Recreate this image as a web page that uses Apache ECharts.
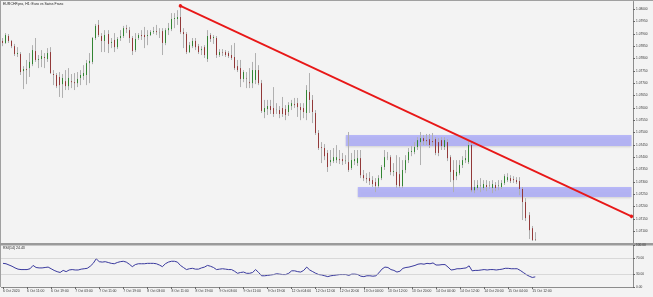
<!DOCTYPE html>
<html><head><meta charset="utf-8">
<script src="https://cdn.jsdelivr.net/npm/echarts@6/dist/echarts.min.js"></script>
<style>html,body{margin:0;padding:0;background:#f3f3f3}#c{width:653px;height:297px}</style>
</head><body><div id="c"></div>
<script>
// ---- data ----
const tickLabels = ['6 Oct 2020','6 Oct 11:00','6 Oct 19:00','7 Oct 03:00','7 Oct 11:00','7 Oct 19:00','8 Oct 03:00','8 Oct 11:00','8 Oct 19:00','9 Oct 03:00','9 Oct 11:00','9 Oct 19:00','12 Oct 04:00','12 Oct 12:00','12 Oct 20:00','13 Oct 04:00','13 Oct 12:00','13 Oct 20:00','14 Oct 04:00','14 Oct 12:00','14 Oct 20:00','15 Oct 04:00','15 Oct 12:00'];
const priceTicks = [1.07100,1.07150,1.07200,1.07250,1.07300,1.07350,1.07400,1.07450,1.07500,1.07550,1.07600,1.07650,1.07700,1.07750,1.07800,1.07850,1.07900,1.07950,1.08000];
const rsiTicks = [0,30,70,100];
const totalBars = 210;   // visible bar slots incl. empty right margin
const labelEvery = 8;

const open = [
1.07871,1.07863,1.07891,1.07871,1.07850,1.07818,1.07818,1.07749,1.07757,1.07761,
1.07777,1.07830,1.07794,1.07798,1.07806,1.07798,1.07826,1.07737,1.07733,1.07725,
1.07696,1.07708,1.07688,1.07708,1.07704,1.07700,1.07721,1.07729,1.07733,1.07781,
1.07786,1.07883,1.07936,1.07891,1.07871,1.07899,1.07863,1.07875,1.07846,1.07883,
1.07891,1.07923,1.07915,1.07883,1.07834,1.07883,1.07895,1.07895,1.07891,1.07895,
1.07907,1.07911,1.07903,1.07911,1.07863,1.07915,1.07919,1.07960,1.07960,1.07968,
1.07907,1.07899,1.07826,1.07850,1.07871,1.07850,1.07834,1.07846,1.07798,1.07895,
1.07883,1.07883,1.07814,1.07826,1.07826,1.07822,1.07814,1.07806,1.07769,1.07761,
1.07717,1.07721,1.07704,1.07700,1.07713,1.07753,1.07700,1.07583,1.07595,1.07607,
1.07599,1.07591,1.07591,1.07599,1.07595,1.07583,1.07607,1.07615,1.07619,1.07603,
1.07599,1.07579,1.07664,1.07632,1.07579,1.07498,1.07441,1.07437,1.07417,1.07380,
1.07384,1.07388,1.07392,1.07392,1.07384,1.07380,1.07356,1.07384,1.07376,1.07396,
1.07327,1.07315,1.07315,1.07307,1.07299,1.07283,1.07315,1.07360,1.07400,1.07400,
1.07340,1.07340,1.07331,1.07283,1.07348,1.07388,1.07421,1.07421,1.07441,1.07461,
1.07477,1.07469,1.07473,1.07465,1.07473,1.07461,1.07469,1.07441,1.07461,1.07400,
1.07348,1.07323,1.07335,1.07368,1.07388,1.07380,1.07449,1.07266,1.07275,1.07283,
1.07275,1.07287,1.07287,1.07275,1.07287,1.07283,1.07279,1.07295,1.07307,1.07315,
1.07311,1.07307,1.07303,1.07271,1.07218,1.07165,1.07112,1.07068];
const close = [
1.07863,1.07895,1.07871,1.07850,1.07818,1.07822,1.07745,1.07757,1.07753,1.07786,
1.07834,1.07794,1.07798,1.07810,1.07802,1.07822,1.07741,1.07733,1.07688,1.07692,
1.07721,1.07688,1.07721,1.07704,1.07700,1.07717,1.07733,1.07741,1.07781,1.07790,
1.07883,1.07932,1.07895,1.07871,1.07895,1.07859,1.07867,1.07846,1.07879,1.07891,
1.07923,1.07919,1.07883,1.07830,1.07879,1.07895,1.07891,1.07887,1.07895,1.07907,
1.07911,1.07907,1.07904,1.07863,1.07915,1.07923,1.07960,1.07964,1.07968,1.07907,
1.07899,1.07826,1.07854,1.07871,1.07846,1.07826,1.07838,1.07814,1.07891,1.07879,
1.07887,1.07814,1.07826,1.07824,1.07814,1.07810,1.07802,1.07761,1.07753,1.07717,
1.07745,1.07719,1.07700,1.07753,1.07753,1.07700,1.07587,1.07599,1.07607,1.07591,
1.07575,1.07592,1.07575,1.07575,1.07571,1.07611,1.07619,1.07611,1.07603,1.07591,
1.07583,1.07672,1.07632,1.07583,1.07498,1.07437,1.07438,1.07404,1.07360,1.07388,
1.07400,1.07400,1.07388,1.07384,1.07386,1.07348,1.07388,1.07392,1.07396,1.07327,
1.07315,1.07311,1.07303,1.07291,1.07283,1.07315,1.07360,1.07400,1.07401,1.07340,
1.07344,1.07287,1.07283,1.07348,1.07388,1.07421,1.07425,1.07441,1.07469,1.07477,
1.07465,1.07465,1.07449,1.07461,1.07417,1.07417,1.07445,1.07469,1.07396,1.07340,
1.07307,1.07340,1.07368,1.07388,1.07396,1.07449,1.07266,1.07279,1.07287,1.07284,
1.07291,1.07279,1.07286,1.07291,1.07275,1.07285,1.07295,1.07323,1.07319,1.07303,
1.07307,1.07299,1.07271,1.07218,1.07153,1.07104,1.07064,1.07066];
const low = [
1.07850,1.07859,1.07863,1.07842,1.07810,1.07806,1.07733,1.07676,1.07696,1.07725,
1.07769,1.07786,1.07761,1.07765,1.07761,1.07786,1.07737,1.07692,1.07680,1.07644,
1.07640,1.07672,1.07672,1.07680,1.07672,1.07684,1.07692,1.07713,1.07692,1.07700,
1.07777,1.07875,1.07887,1.07826,1.07826,1.07822,1.07842,1.07826,1.07838,1.07871,
1.07883,1.07903,1.07863,1.07814,1.07826,1.07875,1.07875,1.07842,1.07854,1.07891,
1.07899,1.07895,1.07883,1.07814,1.07854,1.07895,1.07911,1.07923,1.07936,1.07899,
1.07842,1.07818,1.07822,1.07842,1.07834,1.07818,1.07814,1.07802,1.07786,1.07867,
1.07859,1.07802,1.07806,1.07810,1.07806,1.07802,1.07794,1.07753,1.07745,1.07684,
1.07704,1.07680,1.07680,1.07680,1.07696,1.07692,1.07579,1.07558,1.07571,1.07575,
1.07563,1.07575,1.07558,1.07563,1.07550,1.07567,1.07591,1.07599,1.07563,1.07550,
1.07558,1.07550,1.07579,1.07538,1.07490,1.07429,1.07376,1.07388,1.07340,1.07364,
1.07376,1.07376,1.07372,1.07368,1.07372,1.07340,1.07348,1.07368,1.07364,1.07315,
1.07303,1.07295,1.07287,1.07279,1.07258,1.07275,1.07307,1.07348,1.07388,1.07327,
1.07323,1.07275,1.07275,1.07275,1.07335,1.07376,1.07404,1.07412,1.07429,1.07368,
1.07449,1.07449,1.07437,1.07445,1.07408,1.07404,1.07429,1.07429,1.07384,1.07299,
1.07258,1.07307,1.07327,1.07356,1.07376,1.07372,1.07258,1.07254,1.07266,1.07258,
1.07266,1.07262,1.07271,1.07254,1.07262,1.07266,1.07271,1.07287,1.07299,1.07295,
1.07295,1.07291,1.07246,1.07145,1.07141,1.07068,1.07060,1.07060];
const high = [
1.07883,1.07903,1.07899,1.07875,1.07859,1.07846,1.07826,1.07769,1.07794,1.07822,
1.07854,1.07883,1.07814,1.07834,1.07822,1.07842,1.07846,1.07753,1.07741,1.07745,
1.07737,1.07753,1.07761,1.07737,1.07741,1.07745,1.07753,1.07773,1.07794,1.07822,
1.07887,1.07940,1.07956,1.07903,1.07915,1.07915,1.07883,1.07903,1.07887,1.07915,
1.07932,1.07936,1.07928,1.07891,1.07903,1.07903,1.07915,1.07928,1.07915,1.07915,
1.07928,1.07936,1.07923,1.07923,1.07923,1.07944,1.07984,1.07984,1.07996,1.08013,
1.07923,1.07907,1.07867,1.07883,1.07883,1.07859,1.07850,1.07854,1.07915,1.07903,
1.07895,1.07891,1.07838,1.07838,1.07834,1.07830,1.07854,1.07863,1.07794,1.07794,
1.07753,1.07745,1.07761,1.07786,1.07822,1.07773,1.07713,1.07632,1.07632,1.07632,
1.07684,1.07619,1.07607,1.07644,1.07611,1.07623,1.07632,1.07640,1.07640,1.07619,
1.07619,1.07692,1.07741,1.07652,1.07591,1.07510,1.07461,1.07453,1.07429,1.07429,
1.07437,1.07449,1.07429,1.07417,1.07408,1.07502,1.07417,1.07429,1.07429,1.07429,
1.07348,1.07335,1.07340,1.07323,1.07315,1.07327,1.07368,1.07429,1.07421,1.07408,
1.07376,1.07408,1.07400,1.07388,1.07408,1.07437,1.07445,1.07461,1.07481,1.07502,
1.07490,1.07494,1.07494,1.07498,1.07481,1.07477,1.07481,1.07481,1.07473,1.07408,
1.07388,1.07388,1.07388,1.07404,1.07429,1.07465,1.07461,1.07307,1.07307,1.07315,
1.07307,1.07307,1.07303,1.07307,1.07299,1.07307,1.07307,1.07331,1.07335,1.07327,
1.07323,1.07319,1.07319,1.07279,1.07234,1.07177,1.07121,1.07096];
const rsi = [
57,56,53,50,46,43,42,42,42,44,
52,47,46,46,47,48,44,40,37,35,
40,37,41,42,41,41,43,44,45,50,
57,68,61,60,61,59,57,56,59,61,
62,60,55,49,54,56,56,56,57,57,
57,56,53,49,56,60,62,62,60,52,
47,42,44,45,43,43,46,48,52,50,
47,42,43,44,43,42,42,38,33,35,
36,33,33,35,42,35,27,27,28,29,
30,32,31,30,30,33,39,39,37,36,
40,48,41,37,33,30,29,27,25,27,
28,29,30,30,30,28,31,31,30,26,
25,27,27,26,27,34,43,48,47,42,
40,36,38,45,47,48,50,52,55,56,
55,57,56,58,53,53,54,54,48,41,
42,44,44,45,46,51,39,40,40,41,
42,41,42,42,41,42,43,45,45,44,
44,44,40,35,30,26,23,24.43];
const trendLine = {fromBar: 59, fromPrice: 1.08013, toBar: 209, toPrice: 1.07160};
const zones = [
  {fromBar: 114, toBar: 209, top: 1.07490, bottom: 1.07445},
  {fromBar: 118, toBar: 209, top: 1.07279, bottom: 1.07238}
];
const priceMin = 1.07052, priceMax = 1.08031;

// ---- chart ----
const cats = Array.from({length: totalBars}, (_, i) => String(i));
const showTick = (i) => i % labelEvery === 0 && i / labelEvery < tickLabels.length;
const full = open.map((o, i) => [o, close[i], low[i], high[i]]);
const bodies = open.map((o, i) => [o, close[i], Math.min(o, close[i]), Math.max(o, close[i])]);
const FONT = 'Liberation Sans';
const axisColor = '#8c8c8c';

const chart = echarts.init(document.getElementById('c'), null, {renderer: 'canvas'});
chart.setOption({
  animation: false,
  backgroundColor: '#f3f3f3',
  grid: [
    {left: 1.5, top: 1.5, width: 631.5, height: 241.5},
    {left: 1.5, top: 245.5, width: 631.5, height: 41.5}
  ],
  xAxis: [
    {gridIndex: 0, type: 'category', data: cats, boundaryGap: true,
     axisLine: {show: false}, axisTick: {show: false}, axisLabel: {show: false}, splitLine: {show: false}},
    {gridIndex: 1, type: 'category', data: cats, boundaryGap: true,
     axisLine: {show: true, lineStyle: {color: axisColor, width: 1}},
     axisTick: {show: true, alignWithLabel: true, length: 2, interval: (i) => showTick(i), lineStyle: {color: '#666'}},
     axisLabel: {show: true, interval: (i) => showTick(i), formatter: (v, i) => showTick(i) ? tickLabels[i / labelEvery] : '',
       fontSize: 3.4, fontFamily: FONT, color: '#333', align: 'left', margin: 3},
     splitLine: {show: false}}
  ],
  yAxis: [
    {gridIndex: 0, type: 'value', position: 'right', min: priceMin, max: priceMax,
     axisLine: {show: true, lineStyle: {color: axisColor}},
     axisTick: {show: true, length: 2, customValues: priceTicks, lineStyle: {color: '#666'}},
     axisLabel: {show: true, customValues: priceTicks, formatter: (v) => v.toFixed(5), fontSize: 3.2, fontFamily: FONT, color: '#333', margin: 3},
     splitLine: {show: false}},
    {gridIndex: 1, type: 'value', position: 'right', min: 0, max: 100,
     axisLine: {show: true, lineStyle: {color: axisColor}},
     axisTick: {show: true, length: 2, customValues: rsiTicks, lineStyle: {color: '#666'}},
     axisLabel: {show: true, customValues: rsiTicks, formatter: (v) => v.toFixed(2), fontSize: 3.2, fontFamily: FONT, color: '#333', margin: 3},
     splitLine: {show: false}}
  ],
  series: [
    {type: 'candlestick', name: 'wicks', xAxisIndex: 0, yAxisIndex: 0, data: full, barWidth: 1, silent: true, z: 2,
     itemStyle: {color: '#b0b0b0', color0: '#b0b0b0', borderColor: '#b0b0b0', borderColor0: '#b0b0b0', borderWidth: 1}},
    {type: 'candlestick', name: 'bodies', xAxisIndex: 0, yAxisIndex: 0, data: bodies, barWidth: 1.2, silent: true, z: 3,
     itemStyle: {color: '#127a12', color0: '#8a1a1a', borderColor: '#127a12', borderColor0: '#8a1a1a', borderWidth: 0.8}},
    {type: 'line', name: 'objects', xAxisIndex: 0, yAxisIndex: 0, data: [], silent: true, z: 5,
     markArea: {silent: true,
       itemStyle: {color: 'rgba(172,172,250,0.82)', shadowColor: 'rgba(0,0,0,0.18)', shadowBlur: 2, shadowOffsetY: 1},
       data: zones.map(z => [{xAxis: z.fromBar, yAxis: z.top}, {xAxis: z.toBar, yAxis: z.bottom}])},
     markLine: {silent: true, symbol: ['circle', 'circle'], symbolSize: 3.5, label: {show: false},
       lineStyle: {color: '#e81818', width: 1.8, type: 'solid'},
       data: [[{coord: [trendLine.fromBar, trendLine.fromPrice]}, {coord: [trendLine.toBar, trendLine.toPrice]}]]}},
    {type: 'line', name: 'RSI', xAxisIndex: 1, yAxisIndex: 1, data: rsi, symbol: 'none', silent: true,
     lineStyle: {color: '#3a3a9e', width: 1},
     markLine: {silent: true, symbol: 'none', label: {show: false},
       lineStyle: {color: '#bdbdbd', type: 'dotted', width: 1},
       data: [{yAxis: 70}, {yAxis: 30}]}}
  ],
  graphic: [
    {type: 'rect', shape: {x: 0, y: 0, width: 653, height: 1}, style: {fill: '#a0a0a0'}, silent: true},
    {type: 'rect', shape: {x: 0, y: 0, width: 1, height: 287}, style: {fill: '#a0a0a0'}, silent: true},
    {type: 'rect', shape: {x: 0, y: 243, width: 653, height: 2.5}, style: {fill: '#9a9a9a'}, silent: true},
    {type: 'text', x: 3, y: 2.5, style: {text: 'EURCHF.pro, H1: Euro vs Swiss Franc', fontSize: 3.5, fontFamily: FONT, fill: '#222'}, silent: true},
    {type: 'text', x: 3, y: 246.5, style: {text: 'RSI(14) 24.43', fontSize: 3.5, fontFamily: FONT, fill: '#222'}, silent: true}
  ]
});
</script></body></html>
